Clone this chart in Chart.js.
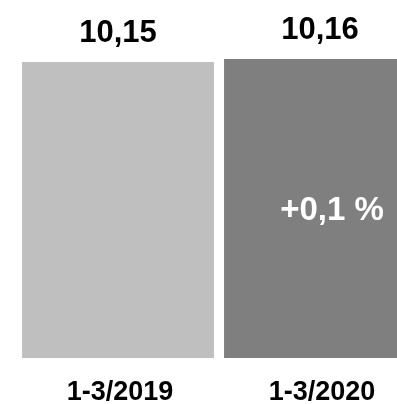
<!DOCTYPE html>
<html>
<head>
<meta charset="utf-8">
<style>
  html, body { margin: 0; padding: 0; background: #fff; overflow: hidden; }
  #wrap { width: 430px; height: 404px; }
</style>
<script src="https://cdn.jsdelivr.net/npm/chart.js@4/dist/chart.umd.min.js"></script>
</head>
<body>
<div id="wrap"><canvas id="chart" width="430" height="404"></canvas></div>
<script>
const categories = ["1-3/2019", "1-3/2020"]
const values = [10.15, 10.16]
const valueLabels = ["10,15", "10,16"]
const barColors = ["#bfbfbf", "#7f7f7f"]
const changeLabel = "+0,1 %"

const FONT = "'Liberation Sans', Arial, sans-serif"

const labelsPlugin = {
  id: "labels",
  afterDraw(chart) {
    const ctx = chart.ctx
    const bars = chart.getDatasetMeta(0).data
    const x = chart.scales.x
    const y = chart.scales.y
    ctx.save()
    ctx.textAlign = "center"
    ctx.textBaseline = "alphabetic"
    ctx.fillStyle = "#000"
    ctx.font = `bold 31px ${FONT}`
    bars.forEach((bar, i) => {
      ctx.fillText(valueLabels[i], bar.x, bar.y - 20)
    })
    ctx.font = `bold 27px ${FONT}`
    categories.forEach((c, i) => {
      ctx.fillText(c, x.getPixelForValue(i) + 2, 400)
    })
    const last = bars[bars.length - 1]
    ctx.fillStyle = "#ffffff"
    ctx.font = `bold 33px ${FONT}`
    ctx.fillText(changeLabel, last.x + 12, (last.y + y.bottom) / 2 + 11)
    ctx.restore()
  }
}

new Chart(document.getElementById("chart"), {
  type: "bar",
  data: {
    labels: categories,
    datasets: [{
      data: values,
      backgroundColor: barColors,
      borderWidth: 0,
      categoryPercentage: 1,
      barPercentage: 0.95
    }]
  },
  options: {
    responsive: false,
    animation: false,
    devicePixelRatio: 1,
    layout: { padding: { top: 59, bottom: 46, left: 17, right: 9 } },
    plugins: {
      legend: { display: false },
      tooltip: { enabled: false }
    },
    scales: {
      x: { display: false },
      y: { display: false, beginAtZero: false, min: 9.163, max: 10.16 }
    }
  },
  plugins: [labelsPlugin]
})
</script>
</body>
</html>
